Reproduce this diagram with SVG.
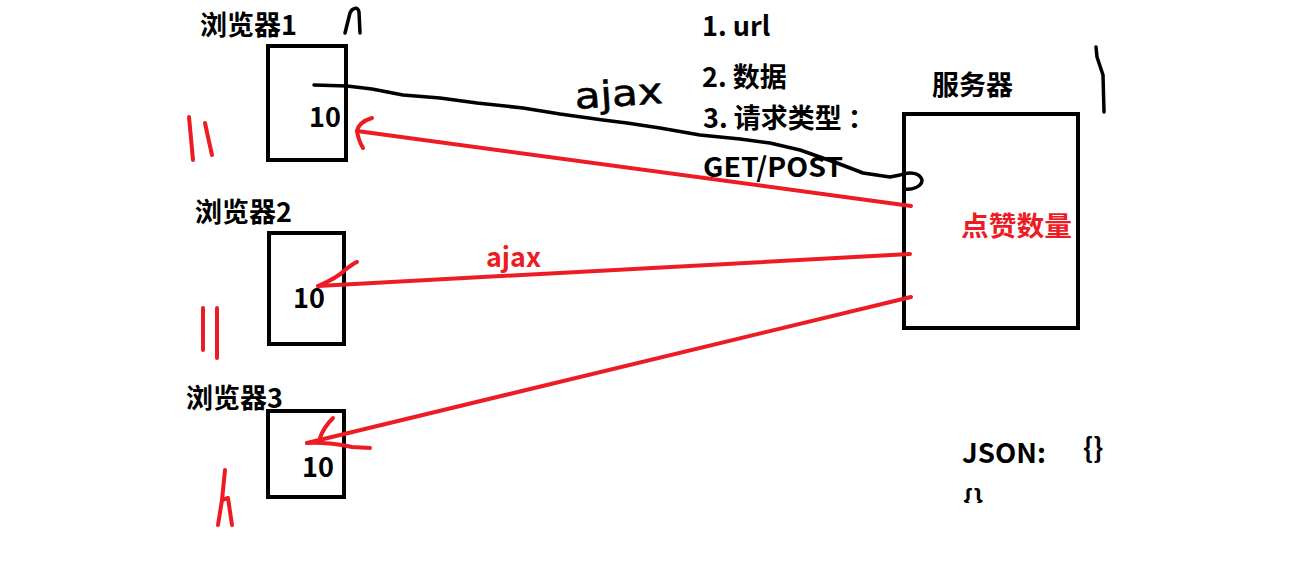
<svg xmlns="http://www.w3.org/2000/svg" width="1299" height="577" viewBox="0 0 1299 577">
<defs>
<style>
.t{font-family:"Noto Sans CJK SC","Liberation Sans",sans-serif;font-weight:bold;font-size:27px;fill:#000}
.r{fill:#ed1c24}
.box{fill:none;stroke:#000;stroke-width:4}
.red{fill:none;stroke:#ed1c24;stroke-width:4;stroke-linecap:round;stroke-linejoin:round}
.blk{fill:none;stroke:#000;stroke-width:3.5;stroke-linecap:round;stroke-linejoin:round}
.hand{font-family:"DejaVu Sans",sans-serif;font-size:36px;fill:#000;stroke:#000;stroke-width:0.6}
</style>
<clipPath id="cut"><rect x="950" y="480" width="100" height="23"/></clipPath>
</defs>
<rect width="1299" height="577" fill="#fff"/>

<g id="browser1">
<rect class="box" x="268" y="46" width="78" height="114"/>
<text class="t" x="200" y="35">浏览器1</text>
<text class="t" x="309" y="127">10</text>
</g>
<g id="browser2">
<rect class="box" x="269" y="233" width="75" height="111"/>
<text class="t" x="195" y="222">浏览器2</text>
<text class="t" x="293" y="308">10</text>
</g>
<g id="browser3">
<rect class="box" x="268" y="411" width="76" height="86"/>
<text class="t" x="186" y="408">浏览器3</text>
<text class="t" x="302" y="477">10</text>
</g>
<g id="server">
<rect class="box" x="904" y="114" width="174" height="214"/>
<text class="t" x="932" y="95">服务器</text>
<text class="t r" x="961" y="236" textLength="111" lengthAdjust="spacingAndGlyphs">点赞数量</text>
</g>
<g id="notes">
<text class="t" x="702" y="36">1. url</text>
<text class="t" x="702" y="87">2. 数据</text>
<text class="t" x="703" y="128">3. 请求类型<tspan dx="6">：</tspan></text>
<text class="t" x="703" y="177" textLength="140" lengthAdjust="spacingAndGlyphs">GET/POST</text>
<text class="t" x="962" y="463" textLength="84" lengthAdjust="spacingAndGlyphs">JSON:</text>
<text class="t" x="1083" y="458">{}</text>
<text class="t" x="963" y="510" clip-path="url(#cut)">{}</text>
<text class="t r" x="486" y="267" font-size="25" textLength="55" lengthAdjust="spacingAndGlyphs">ajax</text>
<text class="hand" x="575" y="106" textLength="88" lengthAdjust="spacingAndGlyphs" transform="rotate(-4 620 100)">ajax</text>
</g>

<g id="connectors">
<path class="blk" d="M314,85 L347,86 L372,89 L403,95 L440,98 L477,103 L523,108 L560,114 L603,120 L627,123 L660,128 L700,135 L740,139 L770,143 L800,150 L837,163 L863,173 L890,177 L900,175 C910,171 920,173 922,180 C922,187 912,190 904,189"/>
<path class="red" d="M911,206 L357,131"/>
<path class="red" d="M372,118 C362,121 358,126 357,131 C358,138 360,143 363,148"/>
<path class="red" d="M910,254 L318,286"/>
<path class="red" d="M318,286 C330,281 340,275 345,270 C350,266 354,263 357,262"/>
<path class="red" d="M911,297 L307,443"/>
<path class="red" d="M333,418 C327,424 322,432 320,438 M307,443 C320,442 340,444 352,447 L370,448"/>
</g>

<g id="marks">
<path class="red" d="M189,117 L193,160"/>
<path class="red" d="M205,123 L208,137 L212,155"/>
<path class="red" d="M203,308 L203,350"/>
<path class="red" d="M217,308 L217,358"/>
<path class="red" d="M225,470 L222,500 L218,525"/>
<path class="red" d="M222,500 L228,498 L232,525"/>
<path class="blk" d="M345,33 L350,13 C352,8 358,6 359,12 L360,33"/>
<path class="blk" d="M1096,47 L1097,57 L1103,75 L1104,112"/>
</g>
</svg>
